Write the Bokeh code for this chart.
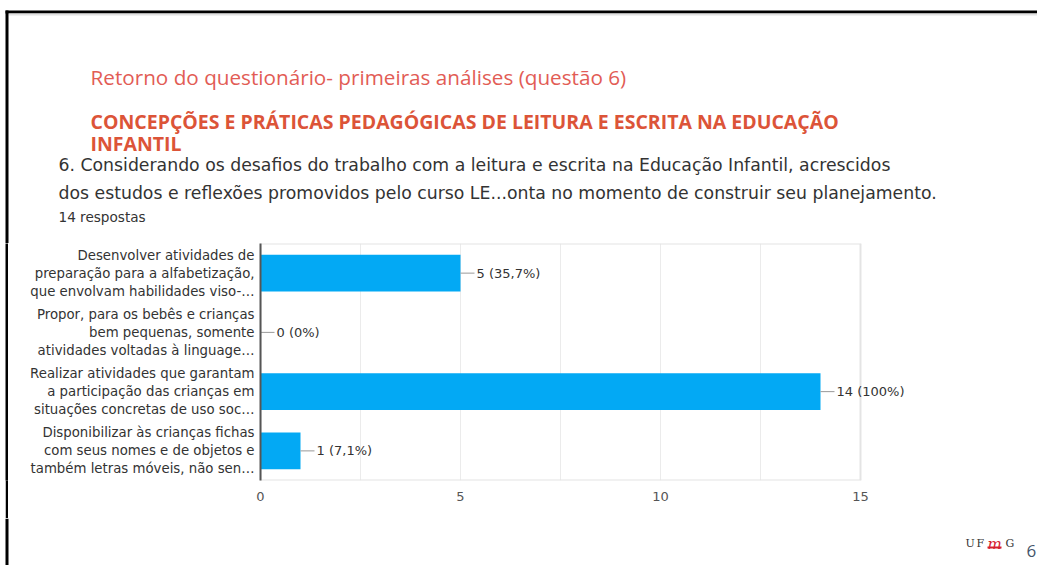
from bokeh.plotting import figure
from bokeh.models import Label, ColumnDataSource, FixedTicker, Range1d, Spacer
from bokeh.layouts import column, row
from bokeh.embed import file_html
from bokeh.resources import INLINE

categories = [
    "Desenvolver atividades de\npreparação para a alfabetização,\nque envolvam habilidades viso-…",
    "Propor, para os bebês e crianças\nbem pequenas, somente\natividades voltadas à linguage…",
    "Realizar atividades que garantam\na participação das crianças em\nsituações concretas de uso soc…",
    "Disponibilizar às crianças fichas\ncom seus nomes e de objetos e\ntambém letras móveis, não sen…",
]
counts = [5, 0, 14, 1]
value_labels = ["5 (35,7%)", "0 (0%)", "14 (100%)", "1 (7,1%)"]
x_ticks = [0, 5, 10, 15]
grid_ticks = [0, 2.5, 5, 7.5, 10, 12.5, 15]

title1 = "Retorno do questionário- primeiras análises (questão 6)"
title2 = "CONCEPÇÕES E PRÁTICAS PEDAGÓGICAS DE LEITURA E ESCRITA NA  EDUCAÇÃO"
title3 = "INFANTIL"
question1 = "6. Considerando os desafios do trabalho com a leitura e escrita na Educação Infantil, acrescidos"
question2 = "dos estudos e reflexões promovidos pelo curso LE...onta no momento de construir seu planejamento."
responses = "14 respostas"

W, H = 1037, 565
HEAD_H = 243          # header band height (chart frame top)
FOOT_Y = 518          # footer band top
GAP, LINE = 5, 3      # white gap + black slide border on the left
STRIP = GAP + LINE
CHART_H = FOOT_Y - HEAD_H
CHART_W = W - STRIP
FRAME_LEFT = 260 - STRIP
FRAME_H = 237
PX_PER_UNIT = 40


def canvas_fig(w, h, y0):
    f = figure(width=w, height=h, x_range=Range1d(0, w), y_range=Range1d(y0 + h, y0),
               x_axis_type=None, y_axis_type=None, output_backend="svg", toolbar_location=None,
               min_border=0, outline_line_color=None)
    f.grid.visible = False
    f.background_fill_color = "white"
    f.border_fill_color = "white"
    return f


def lab(f, x, y, text, size, color, font="Open Sans", style="normal", baseline="alphabetic", align="left"):
    f.add_layout(Label(x=x, y=y, text=text, text_font=font, text_font_size=size, text_color=color,
                       text_font_style=style, text_baseline=baseline, text_align=align))


# ---------- header ----------
head = canvas_fig(W, HEAD_H, 0)
head.quad(left=[GAP], right=[W], top=[10], bottom=[13], fill_color="black", line_color=None)
head.quad(left=[STRIP], right=[W], top=[13], bottom=[15], fill_color="#e2e2e2", line_color=None)
head.quad(left=[GAP], right=[STRIP], top=[10], bottom=[HEAD_H], fill_color="black", line_color=None)
lab(head, 90, 76, title1, "20.7px", "#e25c55")
lab(head, 90, 121, title2, "19.5px", "#dc5438", style="bold")
lab(head, 90, 143, title3, "19.5px", "#dc5438", style="bold")
lab(head, 58, 164, question1, "17.3px", "#333333", font="DejaVu Sans")
lab(head, 58, 192, question2, "17.3px", "#333333", font="DejaVu Sans")
lab(head, 58, 216, responses, "13.6px", "#333333", font="DejaVu Sans")

# ---------- chart ----------
strip = figure(width=LINE, height=CHART_H, x_axis_type=None, y_axis_type=None,
               output_backend="svg", toolbar_location=None, min_border=0, outline_line_color=None)
strip.grid.visible = False
strip.background_fill_color = "black"
strip.border_fill_color = "black"

ypos = [i + 0.5 for i in range(len(categories))]
x_end = (CHART_W - FRAME_LEFT) / PX_PER_UNIT
p = figure(width=CHART_W, height=CHART_H, y_range=Range1d(len(categories), 0), x_range=Range1d(0, x_end),
           output_backend="svg", toolbar_location=None,
           min_border_left=FRAME_LEFT, min_border_right=0, min_border_top=0,
           min_border_bottom=CHART_H - FRAME_H)
p.background_fill_color = "white"
p.border_fill_color = "white"
p.outline_line_color = None

CHART_FONT = "DejaVu Sans"

src = ColumnDataSource(dict(y=ypos, counts=counts, labels=value_labels))
# plot-area box (0..15)
p.quad(left=[x_ticks[0]], right=[x_ticks[-1]], top=[0], bottom=[len(categories)],
       fill_color=None, line_color="#e4e4e4", line_width=2)
p.hbar(y="y", right="counts", height=0.62, source=src, fill_color="#03a9f4", line_color=None)
p.ray(x="counts", y="y", length=14, length_units="screen", angle=0, source=src,
      line_color="#999999", line_width=1)
for yc, n, t in zip(ypos, counts, value_labels):
    p.add_layout(Label(x=n, y=yc, text=t, x_offset=16, text_baseline="middle",
                       text_font=CHART_FONT, text_font_size="13px", text_color="#333333"))

p.xaxis.ticker = FixedTicker(ticks=x_ticks, minor_ticks=[])
p.xgrid.ticker = FixedTicker(ticks=grid_ticks, minor_ticks=[])
p.xgrid.bounds = (0, len(categories))
p.xgrid.grid_line_color = "#ebebeb"
p.ygrid.grid_line_color = None
p.xaxis.axis_line_color = None
p.xaxis.major_tick_line_color = None
p.xaxis.minor_tick_line_color = None
p.xaxis.major_label_standoff = 5
p.xaxis.major_label_text_font = CHART_FONT
p.xaxis.major_label_text_font_size = "13px"
p.xaxis.major_label_text_color = "#555555"

p.yaxis.ticker = FixedTicker(ticks=ypos, minor_ticks=[])
p.yaxis.major_label_overrides = {yc: c for yc, c in zip(ypos, categories)}
p.yaxis.axis_line_color = "#555555"
p.yaxis.axis_line_width = 2
p.yaxis.major_tick_line_color = None
p.yaxis.minor_tick_line_color = None
p.yaxis.major_label_standoff = 0
p.yaxis.major_label_text_font = CHART_FONT
p.yaxis.major_label_text_font_size = "13.3px"
p.yaxis.major_label_text_color = "#333333"
p.yaxis.major_label_text_line_height = 1.2

# ---------- footer ----------
foot = canvas_fig(W, H - FOOT_Y, FOOT_Y)
foot.quad(left=[GAP], right=[STRIP], top=[FOOT_Y], bottom=[H], fill_color="black", line_color=None)
lab(foot, 965, 543, "U", "11px", "#333333", font="DejaVu Serif")
lab(foot, 976, 543, "F", "11px", "#333333", font="DejaVu Serif")
lab(foot, 987, 543, "m", "15px", "#d6202f", font="DejaVu Serif", style="italic")
lab(foot, 1005, 543, "G", "11px", "#333333", font="DejaVu Serif")
foot.quad(left=[987], right=[1001], top=[546], bottom=[548], fill_color="#d6202f", line_color=None)
lab(foot, 1026, 550, "6", "17px", "#44546a", font="Open Sans", baseline="middle")

layout = column(head, row(Spacer(width=GAP, height=CHART_H), strip, p, spacing=0), foot, spacing=0)
open("out.html", "w").write(file_html(layout, INLINE))
